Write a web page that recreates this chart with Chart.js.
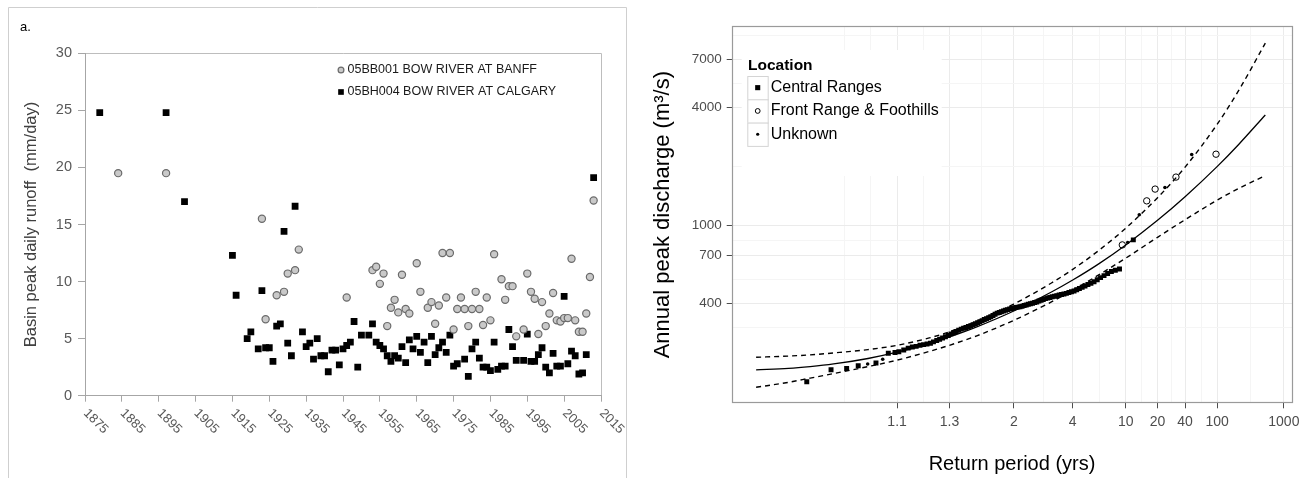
<!DOCTYPE html>
<html>
<head>
<meta charset="utf-8">
<script src="https://cdn.jsdelivr.net/npm/chart.js@4.4.1/dist/chart.umd.min.js"></script>
<style>
  html, body { margin: 0; padding: 0; background: #fff; }
  #wrap { position: relative; width: 1312px; height: 478px; overflow: hidden; }
  #left { position: absolute; left: 0; top: 0; width: 640px; height: 478px; }
  #right { position: absolute; left: 640px; top: 0; width: 672px; height: 478px; }
</style>
</head>
<body>
<div id="wrap">
  <div id="left"><canvas id="runoffChart"></canvas></div>
  <div id="right"><canvas id="freqChart"></canvas></div>
</div>
<script>
// ---- panel a: basin peak daily runoff (mm/day) ----
const banffYears = [1884, 1897, 1923, 1924, 1927, 1929, 1930, 1932, 1933, 1946,
  1953, 1954, 1955, 1956, 1957, 1958, 1959, 1960, 1961, 1962, 1963, 1965, 1966,
  1968, 1969, 1970, 1971, 1972, 1973, 1974, 1975, 1976, 1977, 1978, 1979, 1980,
  1981, 1982, 1983, 1984, 1985, 1986, 1988, 1989, 1990, 1991, 1992, 1994, 1995,
  1996, 1997, 1998, 1999, 2000, 2001, 2002, 2003, 2004, 2005, 2006, 2007, 2008,
  2009, 2010, 2011, 2012, 2013];
const banffRunoff = [19.5, 19.5, 15.5, 6.7, 8.8, 9.1, 10.7, 11.0, 12.8, 8.6,
  11.0, 11.3, 9.8, 10.7, 6.1, 7.7, 8.4, 7.3, 10.6, 7.6, 7.2, 11.6, 9.1,
  7.7, 8.2, 6.3, 7.9, 12.5, 8.6, 12.5, 5.8, 7.6, 8.6, 7.6, 6.1, 7.6,
  9.1, 7.6, 6.2, 8.6, 6.6, 12.4, 10.2, 8.4, 9.6, 9.6, 5.2, 5.8, 10.7,
  9.1, 8.5, 5.4, 8.2, 6.1, 7.2, 9.0, 6.6, 6.5, 6.8, 6.8, 12.0, 6.6,
  5.6, 5.6, 7.2, 10.4, 17.1];

const calgaryYears = [1879, 1897, 1902, 1915, 1916, 1919, 1920, 1922, 1923, 1924,
  1925, 1926, 1927, 1928, 1929, 1930, 1931, 1932, 1934, 1935, 1936, 1937, 1938,
  1939, 1940, 1941, 1942, 1943, 1944, 1945, 1946, 1947, 1948, 1949, 1950, 1952,
  1953, 1954, 1955, 1956, 1957, 1958, 1959, 1960, 1961, 1962, 1963, 1964, 1965,
  1966, 1967, 1968, 1969, 1970, 1971, 1972, 1973, 1974, 1975, 1976, 1978, 1979,
  1980, 1981, 1982, 1983, 1984, 1985, 1986, 1987, 1988, 1989, 1990, 1991, 1992,
  1994, 1995, 1996, 1997, 1998, 1999, 2000, 2001, 2002, 2003, 2004, 2005, 2006,
  2007, 2008, 2009, 2010, 2011, 2013];
const calgaryRunoff = [24.8, 24.8, 17.0, 12.3, 8.8, 5.0, 5.6, 4.1, 9.2, 4.2,
  4.2, 3.0, 6.1, 6.3, 14.4, 4.6, 3.5, 16.6, 5.6, 4.3, 4.6, 3.2, 5.0,
  3.5, 3.5, 2.1, 4.0, 4.0, 2.7, 4.1, 4.4, 4.7, 6.5, 2.5, 5.3, 5.3,
  6.3, 4.7, 4.4, 4.1, 3.5, 3.0, 3.5, 3.3, 4.3, 2.9, 4.9, 4.1, 5.2,
  3.8, 4.7, 2.9, 5.2, 3.6, 4.2, 4.7, 3.8, 5.3, 2.6, 2.8, 3.2, 1.7,
  4.1, 4.7, 3.3, 2.5, 2.5, 2.2, 4.7, 2.3, 2.6, 2.6, 5.8, 4.3, 3.1,
  3.1, 5.4, 3.0, 3.0, 3.6, 4.2, 2.5, 2.0, 3.7, 2.6, 2.6, 8.7, 2.8,
  3.9, 3.5, 1.9, 2.0, 3.6, 19.1];

// ---- panel b: annual peak discharge vs return period ----
const centralPeriod = [1.009, 1.0186, 1.0287, 1.039, 1.0609, 1.0817, 1.0953,
  1.104, 1.116, 1.128, 1.140, 1.152, 1.165, 1.178, 1.191, 1.205, 1.218,
  1.233, 1.247, 1.262, 1.277, 1.293, 1.309, 1.325, 1.342, 1.359, 1.377,
  1.395, 1.413, 1.432, 1.452, 1.472, 1.493, 1.514, 1.536, 1.559, 1.582,
  1.606, 1.631, 1.656, 1.683, 1.710, 1.738, 1.767, 1.797, 1.828, 1.860,
  1.893, 1.927, 1.963, 2.000, 2.038, 2.078, 2.120, 2.163, 2.208, 2.255,
  2.304, 2.356, 2.409, 2.465, 2.524, 2.585, 2.650, 2.718, 2.789, 2.865,
  2.944, 3.029, 3.118, 3.212, 3.313, 3.419, 3.533, 3.655, 3.786, 3.926,
  4.077, 4.240, 4.417, 4.609, 4.818, 5.048, 5.300, 5.579, 5.889, 6.235,
  6.625, 7.067, 7.571, 8.154, 8.833, 11.67];
const centralDischarge = [159, 183, 186, 192, 198, 222, 224,
  226, 231, 236, 239, 241, 244, 246, 248, 250, 254,
  258, 262, 266, 270, 274, 279, 283, 287, 291, 295,
  298, 301, 304, 307, 311, 314, 318, 322, 326, 330,
  333, 337, 341, 346, 351, 356, 359, 362, 365, 368,
  371, 374, 376, 378, 380, 382, 384, 386, 389, 392,
  395, 397, 400, 403, 406, 410, 414, 418, 422, 425,
  428, 431, 434, 437, 440, 443, 446, 449, 453, 457,
  462, 468, 475, 482, 490, 498, 506, 515, 527, 540,
  553, 567, 580, 589, 598, 841];

const frontPeriod = [9.33, 15.6, 18.9, 31.5, 96.8];
const frontDischarge = [793, 1330, 1527, 1758, 2300];

const unknownPeriod = [1.0496, 1.0716, 10.4, 13.25, 23.9, 47.9];
const unknownDischarge = [196, 207, 815, 1129, 1555, 2290];

const curvePeriod = [1.0016, 1.005, 1.01, 1.02, 1.05, 1.1, 1.2, 1.3, 1.5, 2, 3, 4, 6, 10, 20, 40, 100, 200, 500];
const fitDischarge = [183, 186, 190, 196, 209, 225, 249, 269, 302, 365, 456, 525, 633, 793, 1058, 1396, 1988, 2587, 3645];
const upperDischarge = [212, 215, 218, 223, 232, 244, 266, 286, 322, 396, 507, 595, 740, 965, 1380, 1976, 3264, 4879, 8476];
const lowerDischarge = [149, 158, 166, 175, 190, 205, 227, 244, 272, 327, 406, 466, 556, 679, 867, 1066, 1340, 1541, 1789];

const periodBreaks = [1.1, 1.3, 2, 4, 10, 20, 40, 100, 1000];
const dischargeBreaks = [400, 700, 1000, 4000, 7000];

Chart.defaults.font.family = '"Liberation Sans", Arial, sans-serif';
Chart.defaults.animation = false;

const pairs = (xs, ys) => xs.map((x, i) => ({ x: x, y: ys[i] }));

// normal probability helpers for the return period axis
function probit(p) {
  const a = [-3.969683028665376e+01, 2.209460984245205e+02, -2.759285104469687e+02, 1.383577518672690e+02, -3.066479806614716e+01, 2.506628277459239e+00];
  const b = [-5.447609879822406e+01, 1.615858368580409e+02, -1.556989798598866e+02, 6.680131188771972e+01, -1.328068155288572e+01];
  const c = [-7.784894002430293e-03, -3.223964580411365e-01, -2.400758277161838e+00, -2.549732539343734e+00, 4.374664141464968e+00, 2.938163982698783e+00];
  const d = [7.784695709041462e-03, 3.224671290700398e-01, 2.445134137142996e+00, 3.754408661907416e+00];
  const pl = 0.02425;
  if (p < pl) {
    const q = Math.sqrt(-2 * Math.log(p));
    return (((((c[0] * q + c[1]) * q + c[2]) * q + c[3]) * q + c[4]) * q + c[5]) / ((((d[0] * q + d[1]) * q + d[2]) * q + d[3]) * q + 1);
  }
  if (p > 1 - pl) {
    const q = Math.sqrt(-2 * Math.log(1 - p));
    return -(((((c[0] * q + c[1]) * q + c[2]) * q + c[3]) * q + c[4]) * q + c[5]) / ((((d[0] * q + d[1]) * q + d[2]) * q + d[3]) * q + 1);
  }
  const q = p - 0.5, r = q * q;
  return (((((a[0] * r + a[1]) * r + a[2]) * r + a[3]) * r + a[4]) * r + a[5]) * q / (((((b[0] * r + b[1]) * r + b[2]) * r + b[3]) * r + b[4]) * r + 1);
}
function normCdf(z) {
  const t = 1 / (1 + 0.3275911 * Math.abs(z) / Math.SQRT2);
  const e = 1 - (((((1.061405429 * t - 1.453152027) * t) + 1.421413741) * t - 0.284496736) * t + 0.254829592) * t * Math.exp(-z * z / 2);
  return z >= 0 ? (1 + e) / 2 : (1 - e) / 2;
}
const periodToQ = T => probit(1 - 1 / T);
const qToPeriod = q => 1 / (1 - normCdf(q));

class ReturnPeriodScale extends Chart.Scale {
  static id = 'returnPeriod';
  static defaults = {};
  determineDataLimits() {
    const { min, max } = this.getUserBounds();
    this.min = min;
    this.max = max;
  }
  buildTicks() { return []; }
  configure() {
    super.configure();
    this._qStart = periodToQ(this.min);
    this._qRange = periodToQ(this.max) - this._qStart;
  }
  getPixelForValue(value) {
    return this.getPixelForDecimal((periodToQ(value) - this._qStart) / this._qRange);
  }
  getValueForPixel(pixel) {
    return qToPeriod(this._qStart + this.getDecimalForPixel(pixel) * this._qRange);
  }
  getLabelForValue(value) { return String(value); }
}
Chart.register(ReturnPeriodScale);

// grid lines: breaks plus midpoints (as ggplot minor breaks)
const periodGrid = (() => {
  const qs = periodBreaks.map(periodToQ);
  const out = periodBreaks.slice();
  for (let i = 0; i < qs.length - 1; i++) out.push(qToPeriod((qs[i] + qs[i + 1]) / 2));
  const step = qs[1] - qs[0];
  out.push(qToPeriod(qs[0] - step / 2), qToPeriod(qs[0] - step));
  return out.sort((m, n) => m - n);
})();
const dischargeGrid = (() => {
  const ls = dischargeBreaks.map(Math.log10);
  const out = dischargeBreaks.slice();
  for (let i = 0; i < ls.length - 1; i++) out.push(Math.pow(10, (ls[i] + ls[i + 1]) / 2));
  out.push(Math.pow(10, ls[0] - (ls[1] - ls[0]) / 2));
  out.push(Math.pow(10, ls[ls.length - 1] + (ls[ls.length - 1] - ls[ls.length - 2]) / 2));
  return out.sort((m, n) => m - n);
})();

// ================= left chart =================
const runoffDecor = {
  id: 'runoffDecor',
  beforeDraw(chart) {
    const { ctx, chartArea: a } = chart;
    ctx.save();
    ctx.strokeStyle = '#cfcfcf';
    ctx.lineWidth = 1;
    ctx.beginPath();
    ctx.moveTo(8.5, 480); ctx.lineTo(8.5, 7.5); ctx.lineTo(626.5, 7.5); ctx.lineTo(626.5, 480);
    ctx.stroke();
    ctx.strokeStyle = '#bdbdbd';
    ctx.beginPath();
    ctx.moveTo(a.left, Math.round(a.top) + 0.5);
    ctx.lineTo(Math.round(a.right) + 0.5, Math.round(a.top) + 0.5);
    ctx.lineTo(Math.round(a.right) + 0.5, a.bottom);
    ctx.stroke();
    ctx.fillStyle = '#000';
    ctx.font = '13px "Liberation Sans", Arial, sans-serif';
    ctx.textBaseline = 'middle';
    ctx.fillText('a.', 20, 27);
    ctx.restore();
  },
  afterDraw(chart) {
    const { ctx, chartArea: a } = chart;
    const xs = chart.scales.x;
    ctx.save();
    // rotated year labels
    ctx.fillStyle = '#595959';
    ctx.font = '13px "Liberation Sans", Arial, sans-serif';
    ctx.textAlign = 'left';
    ctx.textBaseline = 'middle';
    xs.ticks.forEach(t => {
      ctx.save();
      ctx.translate(xs.getPixelForValue(t.value) + 0.5, a.bottom + 15.5);
      ctx.rotate(Math.PI / 4);
      ctx.fillText(String(t.value), 0, 0);
      ctx.restore();
    });
    // legend inside plot area
    ctx.font = '12.5px "Liberation Sans", Arial, sans-serif';
    chart.data.datasets.forEach((ds, i) => {
      const x = a.left + 256;
      const y = a.top + 16.7 + i * 22;
      ctx.fillStyle = ds.backgroundColor;
      ctx.strokeStyle = ds.borderColor;
      ctx.lineWidth = ds.borderWidth;
      Chart.helpers.drawPoint(ctx, { pointStyle: ds.pointStyle, radius: ds.pointStyle === 'rect' ? 4 : 2.9, rotation: 0, borderWidth: ds.borderWidth }, x, y);
      ctx.fillStyle = '#1a1a1a';
      ctx.fillText(ds.label, x + 6.5, y);
    });
    ctx.restore();
  }
};

new Chart(document.getElementById('runoffChart'), {
  type: 'scatter',
  data: {
    datasets: [{
      label: '05BB001 BOW RIVER AT BANFF',
      data: pairs(banffYears, banffRunoff),
      pointStyle: 'circle',
      pointRadius: 3.6,
      backgroundColor: '#c9c9c9',
      borderColor: '#6b6b6b',
      borderWidth: 1.2
    }, {
      label: '05BH004 BOW RIVER AT CALGARY',
      data: pairs(calgaryYears, calgaryRunoff),
      pointStyle: 'rect',
      pointRadius: 4.8,
      backgroundColor: '#000',
      borderColor: '#000',
      borderWidth: 0
    }]
  },
  options: {
    responsive: true,
    maintainAspectRatio: false,
    layout: { padding: { left: 0, top: 53.3, right: 39, bottom: 0 } },
    plugins: { legend: { display: false }, tooltip: { enabled: false } },
    scales: {
      x: {
        type: 'linear',
        min: 1875,
        max: 2015,
        ticks: { stepSize: 10, display: false },
        grid: { drawOnChartArea: false, tickLength: 6, color: '#a6a6a6' },
        border: { color: '#a6a6a6' },
        afterFit: s => { s.height = 82.3; }
      },
      y: {
        type: 'linear',
        min: 0,
        max: 30,
        ticks: { stepSize: 5, padding: 6, color: '#595959', font: { size: 14.5 } },
        grid: { drawOnChartArea: false, tickLength: 7, color: '#a6a6a6' },
        border: { color: '#a6a6a6' },
        title: {
          display: true,
          text: 'Basin peak daily runoff  (mm/day)',
          color: '#404040',
          font: { size: 16.5 },
          padding: { top: 21.8, bottom: 0 }
        },
        afterFit: s => { s.width = 85; }
      }
    }
  },
  plugins: [runoffDecor]
});

// ================= right chart =================
const majorPeriod = new Set(periodBreaks);
const majorDischarge = new Set(dischargeBreaks);

const freqDecor = {
  id: 'freqDecor',
  afterDatasetsDraw(chart) {
    const { ctx, chartArea: a } = chart;
    ctx.save();
    ctx.strokeStyle = '#9a9a9a';
    ctx.lineWidth = 1.2;
    ctx.strokeRect(Math.round(a.left) + 0.5, Math.round(a.top) + 0.5, Math.round(a.right - a.left) - 1, Math.round(a.bottom - a.top) - 1);

    // legend
    const lx = a.left + 15.6;
    const ly = a.top + 50;
    const rowH = 23.3;
    ctx.fillStyle = '#fff';
    ctx.fillRect(a.left + 10, a.top + 24, 200, 126);
    ctx.fillStyle = '#000';
    ctx.font = 'bold 15.5px "Liberation Sans", Arial, sans-serif';
    ctx.textBaseline = 'middle';
    ctx.textAlign = 'left';
    ctx.fillText('Location', lx + 0.7, a.top + 39.7);
    const items = chart.data.datasets.filter(ds => !ds.showLine);
    ctx.font = '16px "Liberation Sans", Arial, sans-serif';
    items.forEach((ds, i) => {
      const top = ly + i * rowH;
      ctx.strokeStyle = '#d4d4d4';
      ctx.lineWidth = 1;
      ctx.fillStyle = '#fff';
      ctx.fillRect(lx, top, 20.4, rowH);
      ctx.strokeRect(lx + 0.5, top + 0.5, 20.4, rowH);
      ctx.fillStyle = ds.backgroundColor;
      ctx.strokeStyle = ds.borderColor;
      ctx.lineWidth = ds.borderWidth;
      const r = ds.pointStyle === 'rect' ? 3.6 : (ds.borderWidth ? 2.4 : 1.6);
      Chart.helpers.drawPoint(ctx, { pointStyle: ds.pointStyle, radius: r, rotation: 0, borderWidth: ds.borderWidth }, lx + 10.4, top + rowH / 2);
      ctx.fillStyle = '#000';
      ctx.fillText(ds.label, lx + 23.4, top + rowH / 2);
    });
    ctx.restore();
  }
};

new Chart(document.getElementById('freqChart'), {
  type: 'scatter',
  data: {
    datasets: [{
      label: 'Central Ranges',
      data: pairs(centralPeriod, centralDischarge),
      pointStyle: 'rect',
      pointRadius: 3.5,
      backgroundColor: '#000',
      borderColor: '#000',
      borderWidth: 0
    }, {
      label: 'Front Range & Foothills',
      data: pairs(frontPeriod, frontDischarge),
      pointStyle: 'circle',
      pointRadius: 3.2,
      backgroundColor: 'rgba(0,0,0,0)',
      borderColor: '#000',
      borderWidth: 1
    }, {
      label: 'Unknown',
      data: pairs(unknownPeriod, unknownDischarge),
      pointStyle: 'circle',
      pointRadius: 1.8,
      backgroundColor: '#000',
      borderColor: '#000',
      borderWidth: 0
    }, {
      label: 'Fit',
      data: pairs(curvePeriod, fitDischarge),
      showLine: true,
      pointRadius: 0,
      borderColor: '#000',
      borderWidth: 1.3,
      cubicInterpolationMode: 'monotone'
    }, {
      label: 'Upper bound',
      data: pairs(curvePeriod, upperDischarge),
      showLine: true,
      pointRadius: 0,
      borderColor: '#000',
      borderWidth: 1.4,
      borderDash: [5, 4],
      cubicInterpolationMode: 'monotone'
    }, {
      label: 'Lower bound',
      data: pairs(curvePeriod, lowerDischarge),
      showLine: true,
      pointRadius: 0,
      borderColor: '#000',
      borderWidth: 1.4,
      borderDash: [5, 4],
      cubicInterpolationMode: 'monotone'
    }]
  },
  options: {
    responsive: true,
    maintainAspectRatio: false,
    layout: { padding: { left: 0, top: 26, right: 19.7, bottom: 0 } },
    plugins: { legend: { display: false }, tooltip: { enabled: false } },
    scales: {
      x: {
        type: 'returnPeriod',
        min: 1.000624,
        max: 1391,
        afterBuildTicks: s => { s.ticks = periodGrid.map(v => ({ value: v })); },
        ticks: {
          autoSkip: false, minRotation: 0, maxRotation: 0, padding: 5,
          color: '#4d4d4d', font: { size: 14 },
          callback: v => majorPeriod.has(v) ? String(v) : ''
        },
        grid: {
          tickLength: 5,
          color: c => (c.tick && majorPeriod.has(c.tick.value)) ? '#ebebeb' : '#f5f5f5',
          tickColor: c => (c.tick && majorPeriod.has(c.tick.value)) ? '#4d4d4d' : 'rgba(0,0,0,0)'
        },
        border: { display: false },
        title: {
          display: true,
          text: 'Return period (yrs)',
          color: '#000',
          font: { size: 20 },
          padding: { top: 0, bottom: 2 }
        },
        afterFit: s => { s.height = 74.7; }
      },
      y: {
        type: 'logarithmic',
        min: 123.5,
        max: 10360,
        afterBuildTicks: s => { s.ticks = dischargeGrid.map(v => ({ value: v })); },
        ticks: {
          autoSkip: false, padding: 5,
          color: '#4d4d4d', font: { size: 13.5 },
          callback: v => majorDischarge.has(v) ? String(v) : ''
        },
        grid: {
          tickLength: 5,
          color: c => (c.tick && majorDischarge.has(c.tick.value)) ? '#ebebeb' : '#f5f5f5',
          tickColor: c => (c.tick && majorDischarge.has(c.tick.value)) ? '#4d4d4d' : 'rgba(0,0,0,0)'
        },
        border: { display: false },
        title: {
          display: true,
          text: 'Annual peak discharge (m³/s)',
          color: '#000',
          font: { size: 22 },
          padding: { top: 9.3, bottom: 0 }
        },
        afterFit: s => { s.width = 91.7; }
      }
    }
  },
  plugins: [freqDecor]
});
</script>
</body>
</html>
